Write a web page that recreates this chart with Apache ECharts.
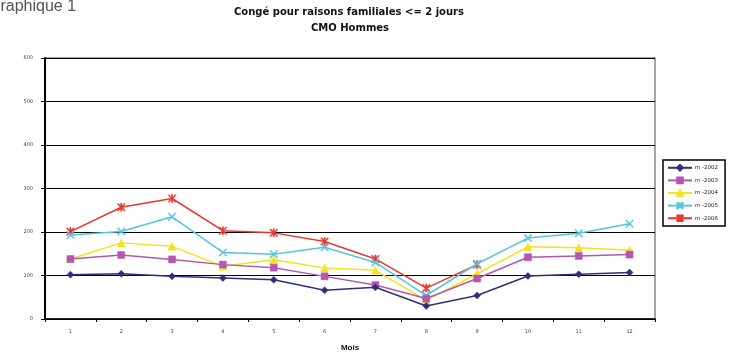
<!DOCTYPE html>
<html>
<head>
<meta charset="utf-8">
<script src="https://cdn.jsdelivr.net/npm/echarts@6/dist/echarts.min.js"></script>
<style>
  html, body { margin: 0; padding: 0; background: #fff; }
  #chart { width: 739px; height: 357px; }
</style>
</head>
<body>
<div id="chart"></div>
<script>
// Monthly counts, men, family-leave absences of 2 days or less
const months = ['1', '2', '3', '4', '5', '6', '7', '8', '9', '10', '11', '12'];
const yTicks = [0, 100, 200, 300, 400, 500, 600];

const seriesNames = ['m -2002', 'm -2003', 'm -2004', 'm -2005', 'm -2006'];
const m2002 = [102, 104, 98, 94, 90, 66, 73, 30, 54, 99, 103, 107];
const m2003 = [138, 147, 137, 125, 118, 98, 78, 47, 93, 142, 145, 148];
const m2004 = [138, 175, 167, 121, 136, 117, 112, 43, 104, 166, 164, 158];
const m2005 = [193, 201, 235, 153, 149, 165, 130, 54, 127, 186, 197, 219];
const m2006 = [201, 257, 277, 203, 198, 178, 138, 71, 125, null, null, null];

const colors = ['#322e7e', '#b257b2', '#f2e41e', '#54c6dc', '#e8382e'];

const crossPath = 'path://M1,0L5,4L9,0L10,1L6,5L10,9L9,10L5,6L1,10L0,9L4,5L0,1Z';
const starPath = 'path://M1,0L5,4L9,0L10,1L6,5L10,9L9,10L5,6L1,10L0,9L4,5L0,1Z M4.2,0H5.8V10H4.2Z';
const symbols = ['diamond', 'rect', 'triangle', crossPath, starPath];
const symbolSizes = [7, 7, 8, 8, 8];
const data = [m2002, m2003, m2004, m2005, m2006];

const wideFont = 'DejaVu Sans';
const plainFont = 'Liberation Sans, Arial';

const chart = echarts.init(document.getElementById('chart'), null, { renderer: 'canvas' });

chart.setOption({
  animation: false,
  backgroundColor: '#fff',
  title: [
    {
      text: 'Congé pour raisons familiales <= 2 jours',
      left: 349, top: 7, textAlign: 'center', padding: 0,
      textStyle: { fontFamily: wideFont, fontSize: 10, fontWeight: 'bold', color: '#111' }
    },
    {
      text: 'CMO Hommes',
      left: 350, top: 23, textAlign: 'center', padding: 0,
      textStyle: { fontFamily: wideFont, fontSize: 10, fontWeight: 'bold', color: '#111' }
    }
  ],
  graphic: [
    {
      type: 'text', x: -12, y: -1,
      style: { text: 'Graphique 1', font: '16px "Liberation Sans", Arial', fill: '#555' }
    }
  ],
  legend: {
    orient: 'vertical',
    left: 663, top: 160,
    padding: [4, 7, 4, 4],
    itemGap: 5,
    itemWidth: 24,
    itemHeight: 7,
    borderColor: '#000',
    borderWidth: 1.5,
    backgroundColor: '#fff',
    textStyle: { fontFamily: wideFont, fontSize: 5.5, color: '#222', padding: [0, 0, 0, -2] },
    data: seriesNames
  },
  grid: {
    left: 45, right: 84, top: 58, bottom: 31,
    show: true, borderColor: '#888', borderWidth: 1.5, backgroundColor: '#fff'
  },
  xAxis: {
    type: 'category',
    data: months,
    boundaryGap: true,
    name: 'Mois',
    nameLocation: 'middle',
    nameGap: 25,
    nameTextStyle: { fontFamily: plainFont, fontSize: 8, fontWeight: 'bold', color: '#111' },
    axisLine: { lineStyle: { color: '#000', width: 1.5 } },
    axisTick: { show: true, length: 3, lineStyle: { color: '#000', width: 1 } },
    axisLabel: { fontFamily: wideFont, fontSize: 5, color: '#444', margin: 10 }
  },
  yAxis: {
    type: 'value',
    min: yTicks[0],
    max: yTicks[yTicks.length - 1],
    interval: 100,
    axisLine: { show: true, lineStyle: { color: '#000', width: 2 } },
    axisTick: { show: true, length: 4, lineStyle: { color: '#000', width: 1 } },
    axisLabel: { fontFamily: wideFont, fontSize: 5, color: '#444', margin: 12 },
    splitLine: { show: true, lineStyle: { color: '#000', width: 1 } }
  },
  series: seriesNames.map((name, i) => ({
    name: name,
    type: 'line',
    data: data[i],
    symbol: symbols[i],
    symbolSize: symbolSizes[i],
    showSymbol: true,
    connectNulls: false,
    color: colors[i],
    lineStyle: { color: colors[i], width: 1.5 },
    itemStyle: { color: colors[i], borderColor: colors[i], borderWidth: 0.5 },
    z: 10 - i
  }))
});
</script>
</body>
</html>
